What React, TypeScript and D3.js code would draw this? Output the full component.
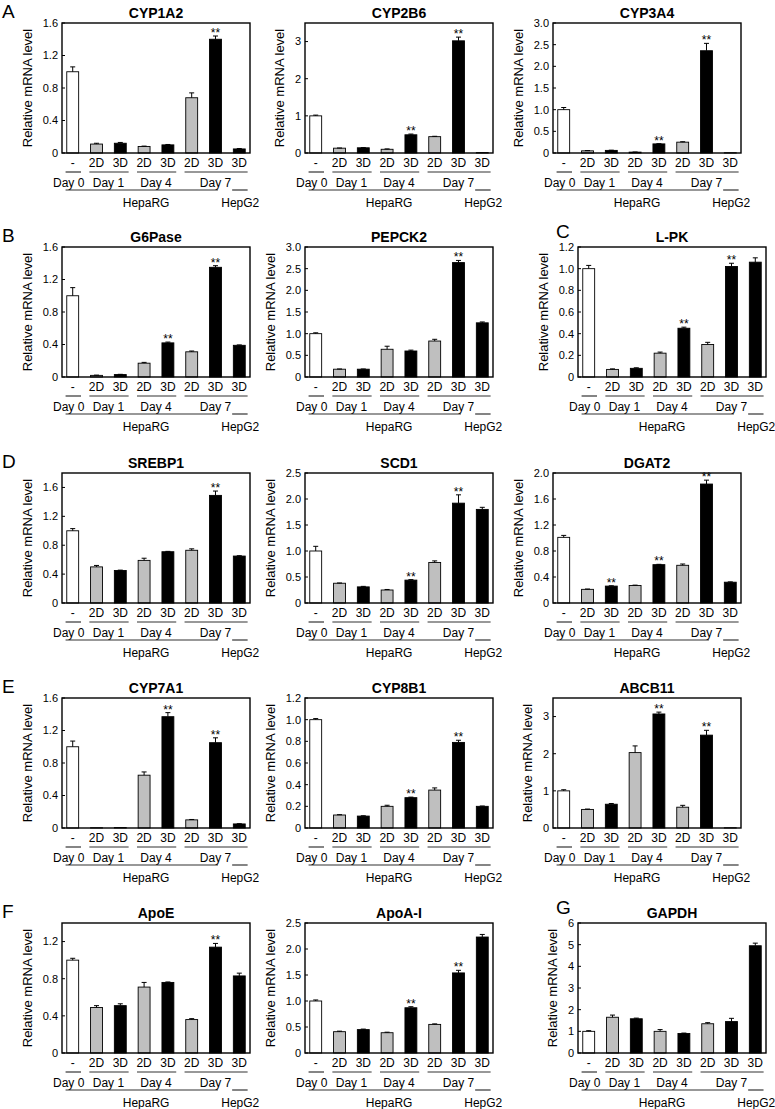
import React from "react";
import * as d3 from "d3";

// ---------- categories / labels ----------
const tickLabels = ["-", "2D", "3D", "2D", "3D", "2D", "3D", "3D"];
const barFills = ["#ffffff", "#bfbfbf", "#000000", "#bfbfbf", "#000000", "#bfbfbf", "#000000", "#000000"];
const dayLabels = ["Day 0", "Day 1", "Day 4", "Day 7"];
const dayGroups = [[0, 0], [1, 2], [3, 4], [5, 7]];
const cellLabels = ["HepaRG", "HepG2"];

// ---------- series values (Day0, D1 2D, D1 3D, D4 2D, D4 3D, D7 2D, D7 3D, HepG2 3D) ----------
const cyp1a2 = [1.0, 0.11, 0.12, 0.08, 0.1, 0.68, 1.4, 0.05];
const cyp1a2Err = [0.06, 0.01, 0.01, 0.005, 0.005, 0.06, 0.04, 0.005];
const cyp2b6 = [1.0, 0.13, 0.14, 0.1, 0.49, 0.44, 3.02, 0.01];
const cyp2b6Err = [0.02, 0.005, 0.005, 0.01, 0.02, 0.01, 0.1, 0];
const cyp3a4 = [1.0, 0.05, 0.06, 0.02, 0.21, 0.25, 2.36, 0.005];
const cyp3a4Err = [0.05, 0.005, 0.005, 0.003, 0.005, 0.01, 0.17, 0];
const g6pase = [1.0, 0.02, 0.03, 0.17, 0.42, 0.31, 1.35, 0.39];
const g6paseErr = [0.1, 0.003, 0.003, 0.01, 0.01, 0.01, 0.02, 0.005];
const pepck2 = [1.0, 0.18, 0.18, 0.64, 0.6, 0.83, 2.64, 1.25];
const pepck2Err = [0.02, 0.005, 0.005, 0.07, 0.02, 0.04, 0.05, 0.02];
const lpk = [1.0, 0.07, 0.08, 0.22, 0.45, 0.3, 1.02, 1.06];
const lpkErr = [0.03, 0.005, 0.005, 0.01, 0.01, 0.02, 0.03, 0.04];
const srebp1 = [1.0, 0.5, 0.45, 0.59, 0.71, 0.73, 1.49, 0.65];
const srebp1Err = [0.03, 0.02, 0.005, 0.03, 0.005, 0.02, 0.06, 0.005];
const scd1 = [1.0, 0.38, 0.31, 0.25, 0.44, 0.78, 1.92, 1.8];
const scd1Err = [0.09, 0.005, 0.01, 0.01, 0.01, 0.03, 0.16, 0.04];
const dgat2 = [1.01, 0.21, 0.26, 0.27, 0.59, 0.58, 1.83, 0.32];
const dgat2Err = [0.03, 0.005, 0.005, 0.005, 0.005, 0.02, 0.06, 0.005];
const cyp7a1 = [1.0, 0.003, 0.005, 0.65, 1.37, 0.1, 1.05, 0.05];
const cyp7a1Err = [0.07, 0, 0, 0.04, 0.05, 0.005, 0.06, 0.003];
const cyp8b1 = [1.0, 0.12, 0.11, 0.2, 0.28, 0.35, 0.79, 0.2];
const cyp8b1Err = [0.01, 0.003, 0.003, 0.01, 0.005, 0.02, 0.02, 0.003];
const abcb11 = [1.0, 0.5, 0.64, 2.03, 3.07, 0.56, 2.5, 0.005];
const abcb11Err = [0.03, 0.01, 0.02, 0.18, 0.05, 0.05, 0.13, 0];
const apoe = [1.0, 0.49, 0.51, 0.71, 0.76, 0.36, 1.14, 0.83];
const apoeErr = [0.02, 0.02, 0.02, 0.05, 0.005, 0.01, 0.04, 0.03];
const apoa1 = [1.0, 0.41, 0.45, 0.39, 0.87, 0.55, 1.54, 2.23];
const apoa1Err = [0.02, 0.01, 0.01, 0.01, 0.02, 0.01, 0.05, 0.05];
const gapdh = [1.0, 1.65, 1.58, 1.0, 0.9, 1.35, 1.45, 4.95];
const gapdhErr = [0.03, 0.1, 0.03, 0.08, 0.02, 0.05, 0.15, 0.12];

// y-axis domains and tick steps
const yMaxes = [1.6, 3.5, 3.0, 1.6, 3.0, 1.2, 1.8, 2.5, 2.0, 1.6, 1.2, 3.5, 1.4, 2.5, 6];
const ySteps = [0.4, 1, 0.5, 0.4, 0.5, 0.2, 0.4, 0.5, 0.4, 0.4, 0.2, 1, 0.4, 0.5, 1];
const geneNames = ["CYP1A2", "CYP2B6", "CYP3A4", "G6Pase", "PEPCK2", "L-PK", "SREBP1", "SCD1", "DGAT2", "CYP7A1", "CYP8B1", "ABCB11", "ApoE", "ApoA-I", "GAPDH"];
const geneValues = [cyp1a2, cyp2b6, cyp3a4, g6pase, pepck2, lpk, srebp1, scd1, dgat2, cyp7a1, cyp8b1, abcb11, apoe, apoa1, gapdh];
const geneErrors = [cyp1a2Err, cyp2b6Err, cyp3a4Err, g6paseErr, pepck2Err, lpkErr, srebp1Err, scd1Err, dgat2Err, cyp7a1Err, cyp8b1Err, abcb11Err, apoeErr, apoa1Err, gapdhErr];
const significant = [[6], [4, 6], [4, 6], [4, 6], [6], [4, 6], [6], [4, 6], [2, 4, 6], [4, 6], [4, 6], [4, 6], [6], [4, 6], []];
const panelLetters = ["A", "", "", "B", "", "C", "D", "", "", "E", "", "", "F", "", "G"];

// layout
const W = 775;
const H = 1109;
const rowTops = [23, 247, 473, 698, 923];
const colLefts = [62, 305, 553];
const shiftedLeft = 578;
const frameW = 188;
const frameH = 130;
const FONT = "'Liberation Sans', Arial, Helvetica, sans-serif";

function fmt(v: number, step: number) {
  if (Math.abs(v) < 1e-9) return "0";
  const dec = step >= 1 ? 0 : 1;
  return v.toFixed(dec);
}
function textW(s: string, size: number) {
  let w = 0;
  for (const ch of s) w += ch === "." ? 0.278 : 0.556;
  return w * size;
}

function Panel({ idx }: { idx: number }) {
  const row = Math.floor(idx / 3);
  const col = idx % 3;
  const shifted = geneNames[idx] === "L-PK" || geneNames[idx] === "GAPDH";
  const left = shifted ? shiftedLeft : colLefts[col];
  const top = rowTops[row];
  const values = geneValues[idx];
  const errs = geneErrors[idx];
  const yMax = yMaxes[idx];
  const step = ySteps[idx];

  const x = d3.scaleBand<number>().domain(d3.range(values.length)).range([left, left + frameW]).paddingInner(0.5).paddingOuter(0.2);
  const y = d3.scaleLinear().domain([0, yMax]).range([top + frameH, top]);
  const bw = x.bandwidth();
  const st = x.step();
  const cx = (i: number) => (x(i) as number) + bw / 2;
  const ticks = d3.range(0, yMax + 1e-9, step);
  const tickLabelsY = ticks.map((t) => fmt(t, step));
  const maxTW = d3.max(tickLabelsY, (s) => textW(s, 11)) as number;
  const zero = y(0);
  const letter = panelLetters[idx];

  return (
    <g>
      {letter && (
        <text x={shifted ? 556 : 2} y={shifted ? top - 9 : top - 5} fontSize={19} fontFamily={FONT}>{letter}</text>
      )}
      <text x={left + frameW / 2} y={top - 5} textAnchor="middle" fontSize={14} fontWeight="bold" fontFamily={FONT}>{geneNames[idx]}</text>
      {/* y axis label */}
      <text transform={`translate(${left - 4 - maxTW - 11},${top + frameH / 2}) rotate(-90)`} textAnchor="middle" fontSize={13} fontFamily={FONT}>Relative mRNA level</text>
      {/* y ticks */}
      {ticks.map((t, i) => (
        <g key={"t" + i}>
          <text x={left - 4} y={y(t)} dy="0.35em" textAnchor="end" fontSize={11} fontFamily={FONT}>{tickLabelsY[i]}</text>
          <line x1={left} x2={left + 3} y1={y(t)} y2={y(t)} stroke="#000" strokeWidth={1} />
        </g>
      ))}
      {/* bars */}
      {values.map((v, i) => (
        <rect key={"b" + i} x={x(i)} y={y(v)} width={bw} height={Math.max(0, zero - y(v))} fill={barFills[i]} stroke="#000" strokeWidth={0.9} />
      ))}
      {/* error bars */}
      {values.map((v, i) =>
        errs[i] > 0 ? (
          <g key={"e" + i} stroke="#000" strokeWidth={1}>
            <line x1={cx(i)} x2={cx(i)} y1={y(v)} y2={y(v + errs[i])} />
            <line x1={cx(i) - 2.5} x2={cx(i) + 2.5} y1={y(v + errs[i])} y2={y(v + errs[i])} />
          </g>
        ) : null
      )}
      {/* significance */}
      {significant[idx].map((i) => (
        <text key={"s" + i} x={cx(i)} y={y(values[i] + errs[i]) + 1} textAnchor="middle" fontSize={12} fontFamily={FONT}>**</text>
      ))}
      {/* frame */}
      <rect x={left} y={top} width={frameW} height={frameH} fill="none" stroke="#000" strokeWidth={1.4} />
      {/* category labels */}
      {tickLabels.map((s, i) => (
        <text key={"c" + i} x={cx(i)} y={zero + 14} textAnchor="middle" fontSize={12} fontFamily={FONT}>{s}</text>
      ))}
      {dayGroups.map(([a, b], i) => (
        <line key={"dl" + i} x1={cx(a) - 0.3 * st} x2={cx(b) + 0.35 * st} y1={zero + 19} y2={zero + 19} stroke="#333" strokeWidth={1.2} />
      ))}
      {dayLabels.map((s, i) => {
        const [a, b] = dayGroups[i];
        const pos = i === 0 ? cx(0) - 4 : i === 3 ? cx(6) : (cx(a) + cx(b)) / 2;
        return (
          <text key={"d" + i} x={pos} y={zero + 34} textAnchor="middle" fontSize={12} fontFamily={FONT}>{s}</text>
        );
      })}
      <line x1={cx(0) - 0.3 * st} x2={cx(6) + 0.1 * st} y1={zero + 37} y2={zero + 37} stroke="#333" strokeWidth={1.2} />
      <line x1={cx(7) - 0.3 * st} x2={cx(7) + 0.35 * st} y1={zero + 37} y2={zero + 37} stroke="#333" strokeWidth={1.2} />
      <text x={(cx(0) + cx(6)) / 2 + 2} y={zero + 54} textAnchor="middle" fontSize={12} fontFamily={FONT}>{cellLabels[0]}</text>
      <text x={cx(7) + 1} y={zero + 54} textAnchor="middle" fontSize={12} fontFamily={FONT}>{cellLabels[1]}</text>
    </g>
  );
}

export default function App() {
  return (
    <svg width={W} height={H} viewBox={`0 0 ${W} ${H}`} style={{ position: "absolute", left: 0, top: 0, background: "#fff" }}>
      <rect x={0} y={0} width={W} height={H} fill="#fff" />
      {geneNames.map((g, i) => (
        <Panel key={g} idx={i} />
      ))}
    </svg>
  );
}
